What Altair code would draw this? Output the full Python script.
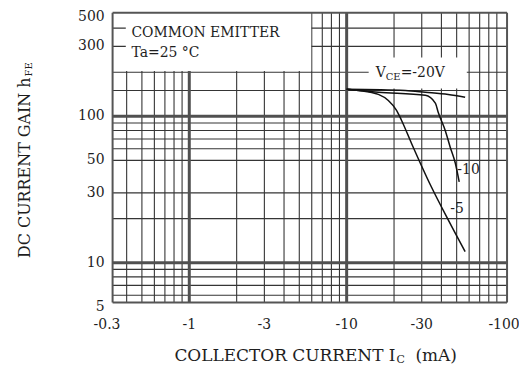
import altair as alt
import pandas as pd

# ---------------- data ----------------
X_DOMAIN = [0.3256, 104.5]      # collector current |Ic| (mA), log axis
Y_DOMAIN = [5.345, 509.8]       # hFE, log axis

x_tick_values = [0.3, 1, 3, 10, 30, 100]
x_tick_labels = ["-0.3", "-1", "-3", "-10", "-30", "-100"]
y_tick_values = [5, 10, 30, 50, 100, 300, 500]
y_tick_labels = ["5", "10", "30", "50", "100", "300", "500"]

x_grid_minor = [0.4, 0.5, 0.6, 0.7, 0.8, 0.9, 2, 3, 4, 5, 6, 7, 8, 9,
                20, 30, 40, 50, 60, 70, 80, 90]
x_grid_major = [1, 10]
y_grid_minor = [6, 7, 8, 9, 20, 30, 50, 60, 70, 80, 90, 150, 200, 300, 400]
y_grid_major = [10, 100]

vce20_ic = [10, 23.6, 31.6, 44.2, 56.6]
vce20_hfe = [153, 150, 146, 141, 135]
vce10_ic = [10, 15.9, 31.6, 36.6, 38.2, 42.3, 45.5, 49.0, 51.9]
vce10_hfe = [153, 146, 139, 123, 106, 80, 61.5, 48, 35.6]
vce5_ic = [10, 11.9, 15.9, 18.4, 20.7, 22.3, 25.8, 34.5, 44.2, 56.6]
vce5_hfe = [153, 150, 141, 128, 110, 94, 65.5, 33, 19.6, 11.9]

series_names = ["-20", "-10", "-5"]

# annotation boxes (white panels hiding the grid)
box_x = [0.395, 13.8]
box_x2 = [5.95, 58]
box_y = [204, 155]
box_y2 = [Y_DOMAIN[1], 252]

legend_lines = ["COMMON EMITTER", "Ta=25 °C"]
legend_x = [0.429, 0.429]
legend_y = [372.7, 272.5]

vce_parts = ["V", "CE", "=-20V"]
vce_anchor = (15.3, 196)
curve_label_text = ["-10", "-5"]
curve_label_x = [50.5, 45.5]
curve_label_y = [42.9, 23.3]

FONT = "DejaVu Serif"
TXT = "#1e1e1e"

# ---------------- chart ----------------
xs = alt.Scale(type="log", domain=X_DOMAIN, nice=False)
ys = alt.Scale(type="log", domain=Y_DOMAIN, nice=False)


def vrules(vals, color, width):
    return alt.Chart(pd.DataFrame({"x": vals})).mark_rule(
        color=color, strokeWidth=width).encode(
        x=alt.X("x:Q", scale=xs, axis=None))


def hrules(vals, color, width):
    return alt.Chart(pd.DataFrame({"y": vals})).mark_rule(
        color=color, strokeWidth=width).encode(
        y=alt.Y("y:Q", scale=ys, axis=None))


grid = (vrules(x_grid_minor, "#353535", 1.1) + hrules(y_grid_minor, "#353535", 1.1)
        + vrules(x_grid_major, "#505050", 3) + hrules(y_grid_major, "#505050", 3))

boxes = alt.Chart(pd.DataFrame({"x": box_x, "x2": box_x2, "y": box_y, "y2": box_y2})
                  ).mark_rect(color="white").encode(
    x=alt.X("x:Q", scale=xs, axis=None), x2="x2:Q",
    y=alt.Y("y:Q", scale=ys, axis=None), y2="y2:Q")

frame = vrules(X_DOMAIN, "#555555", 2) + hrules(Y_DOMAIN, "#555555", 2)

rows = []
for name, ics, hfes in zip(series_names, [vce20_ic, vce10_ic, vce5_ic],
                           [vce20_hfe, vce10_hfe, vce5_hfe]):
    for i, (a, b) in enumerate(zip(ics, hfes)):
        rows.append({"series": name, "ic": a, "hfe": b, "order": i})
curves = alt.Chart(pd.DataFrame(rows)).mark_line(
    color="#111111", strokeWidth=1.5, interpolate="monotone").encode(
    x=alt.X("ic:Q", scale=xs, axis=None),
    y=alt.Y("hfe:Q", scale=ys, axis=None),
    detail="series:N", order="order:Q")

legend_txt = alt.Chart(pd.DataFrame({"x": legend_x, "y": legend_y, "t": legend_lines})
                       ).mark_text(font=FONT, fontSize=14, align="left", baseline="middle",
                                   color=TXT).encode(
    x=alt.X("x:Q", scale=xs, axis=None), y=alt.Y("y:Q", scale=ys, axis=None), text="t:N")

vdf = pd.DataFrame({"x": [vce_anchor[0]], "y": [vce_anchor[1]]})
vce_v = alt.Chart(vdf).mark_text(font=FONT, fontSize=14, align="left", baseline="middle",
                                 color=TXT, text=vce_parts[0]).encode(
    x=alt.X("x:Q", scale=xs, axis=None), y=alt.Y("y:Q", scale=ys, axis=None))
vce_ce = alt.Chart(vdf).mark_text(font=FONT, fontSize=10, align="left", baseline="middle",
                                  color=TXT, text=vce_parts[1], dx=10, dy=4).encode(
    x=alt.X("x:Q", scale=xs, axis=None), y=alt.Y("y:Q", scale=ys, axis=None))
vce_rest = alt.Chart(vdf).mark_text(font=FONT, fontSize=14, align="left", baseline="middle",
                                    color=TXT, text=vce_parts[2], dx=25).encode(
    x=alt.X("x:Q", scale=xs, axis=None), y=alt.Y("y:Q", scale=ys, axis=None))

curve_lbl = alt.Chart(pd.DataFrame({"x": curve_label_x, "y": curve_label_y,
                                    "t": curve_label_text})).mark_text(
    font=FONT, fontSize=14, align="left", baseline="middle", color=TXT).encode(
    x=alt.X("x:Q", scale=xs, axis=None), y=alt.Y("y:Q", scale=ys, axis=None), text="t:N")

xticks = alt.Chart(pd.DataFrame({"v": x_tick_values, "t": x_tick_labels})).mark_text(
    font=FONT, fontSize=14, align="center", baseline="middle", color=TXT).encode(
    x=alt.X("v:Q", scale=xs, axis=None), y=alt.value(314), text="t:N")

ytick_df = pd.DataFrame({"v": y_tick_values, "t": y_tick_labels})
yticks = alt.Chart(ytick_df).mark_text(
    font=FONT, fontSize=14, align="right", baseline="middle", color=TXT).encode(
    y=alt.Y("v:Q", scale=ys, axis=None), x=alt.value(-8), text="t:N"
).transform_filter("datum.v < 400")
ytick_top = alt.Chart(ytick_df).mark_text(
    font=FONT, fontSize=14, align="right", baseline="middle", color=TXT, dy=3).encode(
    y=alt.Y("v:Q", scale=ys, axis=None), x=alt.value(-8), text="t:N"
).transform_filter("datum.v >= 400")

one = pd.DataFrame({"a": [0]})
xt_main = alt.Chart(one).mark_text(font=FONT, fontSize=17, align="right", baseline="middle",
                                   color=TXT, text="COLLECTOR CURRENT I").encode(
    x=alt.value(284), y=alt.value(345))
xt_sub = alt.Chart(one).mark_text(font=FONT, fontSize=11, align="left", baseline="middle",
                                  color=TXT, text="C").encode(
    x=alt.value(285), y=alt.value(349))
xt_unit = alt.Chart(one).mark_text(font=FONT, fontSize=17, align="left", baseline="middle",
                                   color=TXT, text="(mA)").encode(
    x=alt.value(304), y=alt.value(345))

yt_main = alt.Chart(one).mark_text(font=FONT, fontSize=16, align="right", baseline="middle",
                                   angle=270, color=TXT, text="DC CURRENT GAIN h").encode(
    x=alt.value(-88), y=alt.value(65))
yt_sub = alt.Chart(one).mark_text(font=FONT, fontSize=10, align="left", baseline="middle",
                                  angle=270, color=TXT, text="FE").encode(
    x=alt.value(-84), y=alt.value(64))

chart = alt.layer(
    grid, boxes, frame, curves, legend_txt, vce_v, vce_ce, vce_rest, curve_lbl,
    xticks, yticks, ytick_top, xt_main, xt_sub, xt_unit, yt_main, yt_sub
).properties(
    width=396, height=291,
    autosize=alt.AutoSizeParams(type="none"),
    padding={"left": 105, "top": 4, "right": 12, "bottom": 64},
).configure_view(stroke=None)

chart.save("out.html", embed_options={"renderer": "svg", "actions": False})
